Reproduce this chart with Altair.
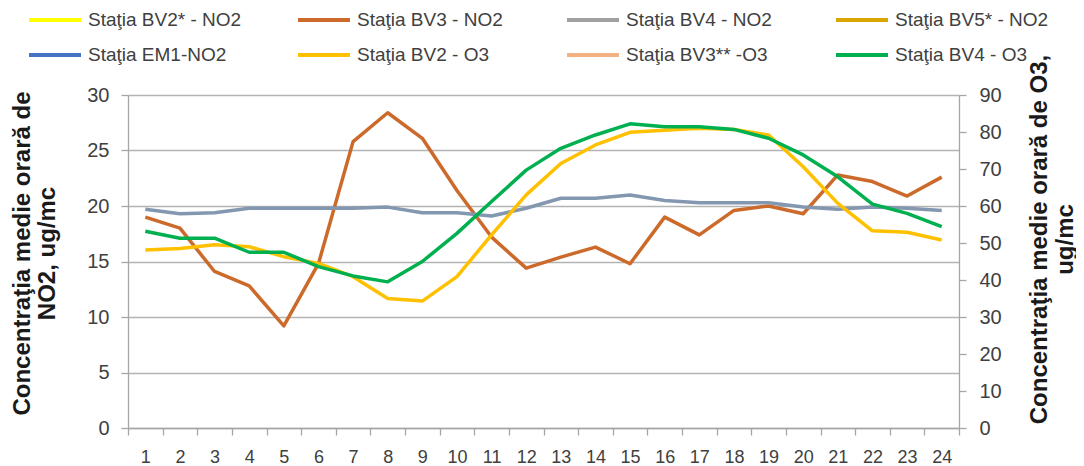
import altair as alt
import pandas as pd

hours = list(range(1, 25))

bv3_no2 = [19.0, 18.0, 14.1, 12.8, 9.2, 14.8, 25.8, 28.4, 26.1, 21.4, 17.2, 14.4,
           15.4, 16.3, 14.8, 19.0, 17.4, 19.6, 20.0, 19.3, 22.8, 22.2, 20.9, 22.6]
bv4_no2 = [19.7, 19.3, 19.4, 19.8, 19.8, 19.8, 19.8, 19.9, 19.4, 19.4, 19.1, 19.8,
           20.7, 20.7, 21.0, 20.5, 20.3, 20.3, 20.3, 19.9, 19.7, 19.9, 19.8, 19.6]
bv2_o3 = [48.1, 48.5, 49.5, 49.0, 46.3, 44.5, 40.9, 35.0, 34.3, 40.9, 52.2, 63.0,
          71.5, 76.5, 79.9, 80.5, 81.0, 80.7, 79.2, 70.6, 60.7, 53.3, 52.9, 50.8]
bv4_o3 = [53.2, 51.3, 51.3, 47.5, 47.5, 43.6, 41.1, 39.5, 45.0, 52.6, 61.2, 69.7,
          75.6, 79.2, 82.2, 81.4, 81.4, 80.7, 78.3, 73.8, 67.9, 60.5, 58.0, 54.4]

legend_names = ["Staţia BV2* - NO2", "Staţia BV3 - NO2", "Staţia BV4 - NO2", "Staţia BV5* - NO2",
                "Staţia EM1-NO2", "Staţia BV2 - O3", "Staţia BV3** -O3", "Staţia BV4 - O3"]
legend_colors = ["#ffff00", "#cc6a2c", "#a0a0a0", "#dba500",
                 "#4472c4", "#ffc000", "#f4b183", "#00b050"]
# the BV4 NO2 line itself is drawn in a blue-grey tone
line_key_bv4 = "BV4 NO2 line"
line_color_bv4 = "#8497b0"

domain = legend_names + [line_key_bv4]
rng = legend_colors + [line_color_bv4]

no2 = pd.DataFrame({
    "hour": hours * 2,
    "key": ["Staţia BV3 - NO2"] * 24 + [line_key_bv4] * 24,
    "value": bv3_no2 + bv4_no2,
})
o3 = pd.DataFrame({
    "hour": hours * 2,
    "key": ["Staţia BV2 - O3"] * 24 + ["Staţia BV4 - O3"] * 24,
    "value": bv2_o3 + bv4_o3,
})

FONT = "Liberation Sans"
GRAY = "#a6a6a6"
LAB = "#404040"

legend = alt.Legend(
    values=legend_names, title=None, orient="none", legendX=-101, legendY=-85,
    direction="horizontal",
    columns=4, symbolType="stroke", symbolSize=2704, symbolStrokeWidth=4,
    labelFont=FONT, labelFontSize=19, labelColor=LAB, labelOffset=5,
    columnPadding=54, rowPadding=15, clipHeight=20, gridAlign="all",
    padding=0, labelLimit=300,
)
color = alt.Color("key:N", scale=alt.Scale(domain=domain, range=rng), legend=legend)

x = alt.X(
    "hour:O", bandPosition=0.5,
    scale=alt.Scale(type="band", paddingInner=0, paddingOuter=0),
    axis=alt.Axis(title=None, labelAngle=0, tickBand="extent", tickSize=7,
                  tickColor=GRAY, tickWidth=1.3, domainColor=GRAY, domainWidth=1.3,
                  labelFont=FONT, labelFontSize=18, labelColor=LAB, labelPadding=13,
                  grid=False),
)

left_axis = alt.Axis(
    orient="left", values=[0, 5, 10, 15, 20, 25, 30], grid=True,
    gridColor="#b3b3b3", gridWidth=1.3, domainColor=GRAY, domainWidth=1.3,
    tickColor=GRAY, tickWidth=1.3, tickSize=7,
    labelFont=FONT, labelFontSize=20, labelColor=LAB, labelPadding=12,
    title=["Concentraţia medie orară de", "NO2, ug/mc"],
    titleFont=FONT, titleFontSize=24, titleFontWeight="bold", titleColor="#1a1a1a",
    titleAngle=270, titleAlign="center", titleBaseline="top",
    titleX=-118, titleY=158, titleLineHeight=25,
)
right_axis = alt.Axis(
    orient="right", values=[0, 10, 20, 30, 40, 50, 60, 70, 80, 90], grid=False,
    domainColor=GRAY, domainWidth=1.3, tickColor=GRAY, tickWidth=1.3, tickSize=7,
    labelFont=FONT, labelFontSize=20, labelColor=LAB, labelPadding=13,
    title=["Concentraţia medie orară de O3,", "ug/mc"],
    titleFont=FONT, titleFontSize=24, titleFontWeight="bold", titleColor="#1a1a1a",
    titleAngle=270, titleAlign="center", titleBaseline="top",
    titleX=68, titleY=144, titleLineHeight=26,
)

no2_layer = alt.Chart(no2).mark_line(strokeWidth=3.5, strokeJoin="round").encode(
    x=x,
    y=alt.Y("value:Q", scale=alt.Scale(domain=[0, 30], nice=False), axis=left_axis),
    color=color,
    detail="key:N",
)
o3_layer = alt.Chart(o3).mark_line(strokeWidth=3.5, strokeJoin="round").encode(
    x=x,
    y=alt.Y("value:Q", scale=alt.Scale(domain=[0, 90], nice=False), axis=right_axis),
    color=color,
    detail="key:N",
)

chart = alt.layer(no2_layer, o3_layer).resolve_scale(y="independent").properties(
    width=831, height=333,
    autosize=alt.AutoSizeParams(type="none"),
    padding={"left": 120, "top": 87, "right": 117, "bottom": 38},
    background="white",
).configure_view(stroke=None)

chart.save("out.html", embed_options={"renderer": "svg", "actions": False})
